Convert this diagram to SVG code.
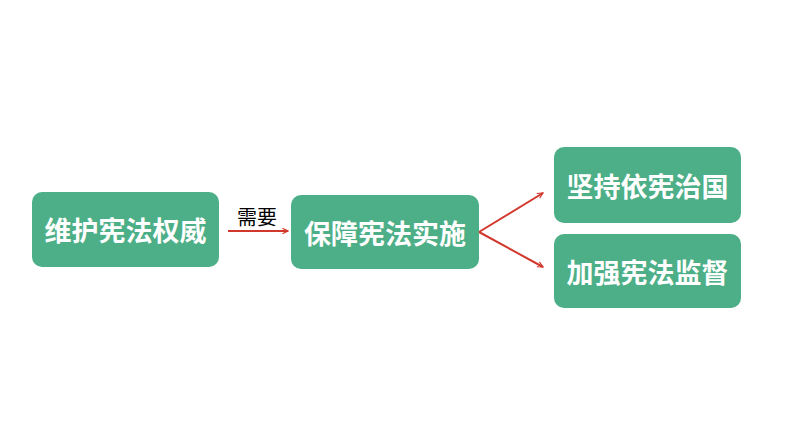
<svg xmlns="http://www.w3.org/2000/svg" width="794" height="447" viewBox="0 0 794 447">
<style>
.box{fill:#4daf87;}
.t{font-family:"Noto Sans CJK SC","Liberation Sans",sans-serif;font-weight:bold;font-size:27px;fill:#ffffff;text-anchor:middle;dominant-baseline:central;}
.c{stroke:#d2372c;stroke-width:2;fill:none;marker-end:url(#ah);}
.lbl{font-family:"Noto Sans CJK SC","Liberation Sans",sans-serif;font-size:20px;fill:#000000;}
</style>
<defs>
<marker id="ah" viewBox="0 0 10 10" refX="9" refY="5" markerWidth="7" markerHeight="7" orient="auto" markerUnits="userSpaceOnUse">
<path d="M1,1 L9,5 L1,9" fill="none" stroke="#d2372c" stroke-width="1.6"/>
</marker>
</defs>
<rect width="794" height="447" fill="#ffffff"/>
<g id="connectors">
<line class="c" x1="228" y1="231" x2="288" y2="231"/>
<text class="lbl" x="237" y="225">需要</text>
<line class="c" x1="479" y1="232" x2="543" y2="193"/>
<line class="c" x1="479" y1="232" x2="543" y2="267"/>
</g>
<g id="n1"><rect class="box" x="32" y="192" width="187" height="75" rx="10"/><text class="t" x="125.5" y="229.5">维护宪法权威</text></g>
<g id="n2"><rect class="box" x="291" y="195" width="188" height="74" rx="10"/><text class="t" x="385" y="232">保障宪法实施</text></g>
<g id="n3"><rect class="box" x="554" y="147" width="187" height="76" rx="10"/><text class="t" x="647.5" y="185">坚持依宪治国</text></g>
<g id="n4"><rect class="box" x="554" y="234" width="187" height="74" rx="10"/><text class="t" x="647.5" y="271">加强宪法监督</text></g>
</svg>
